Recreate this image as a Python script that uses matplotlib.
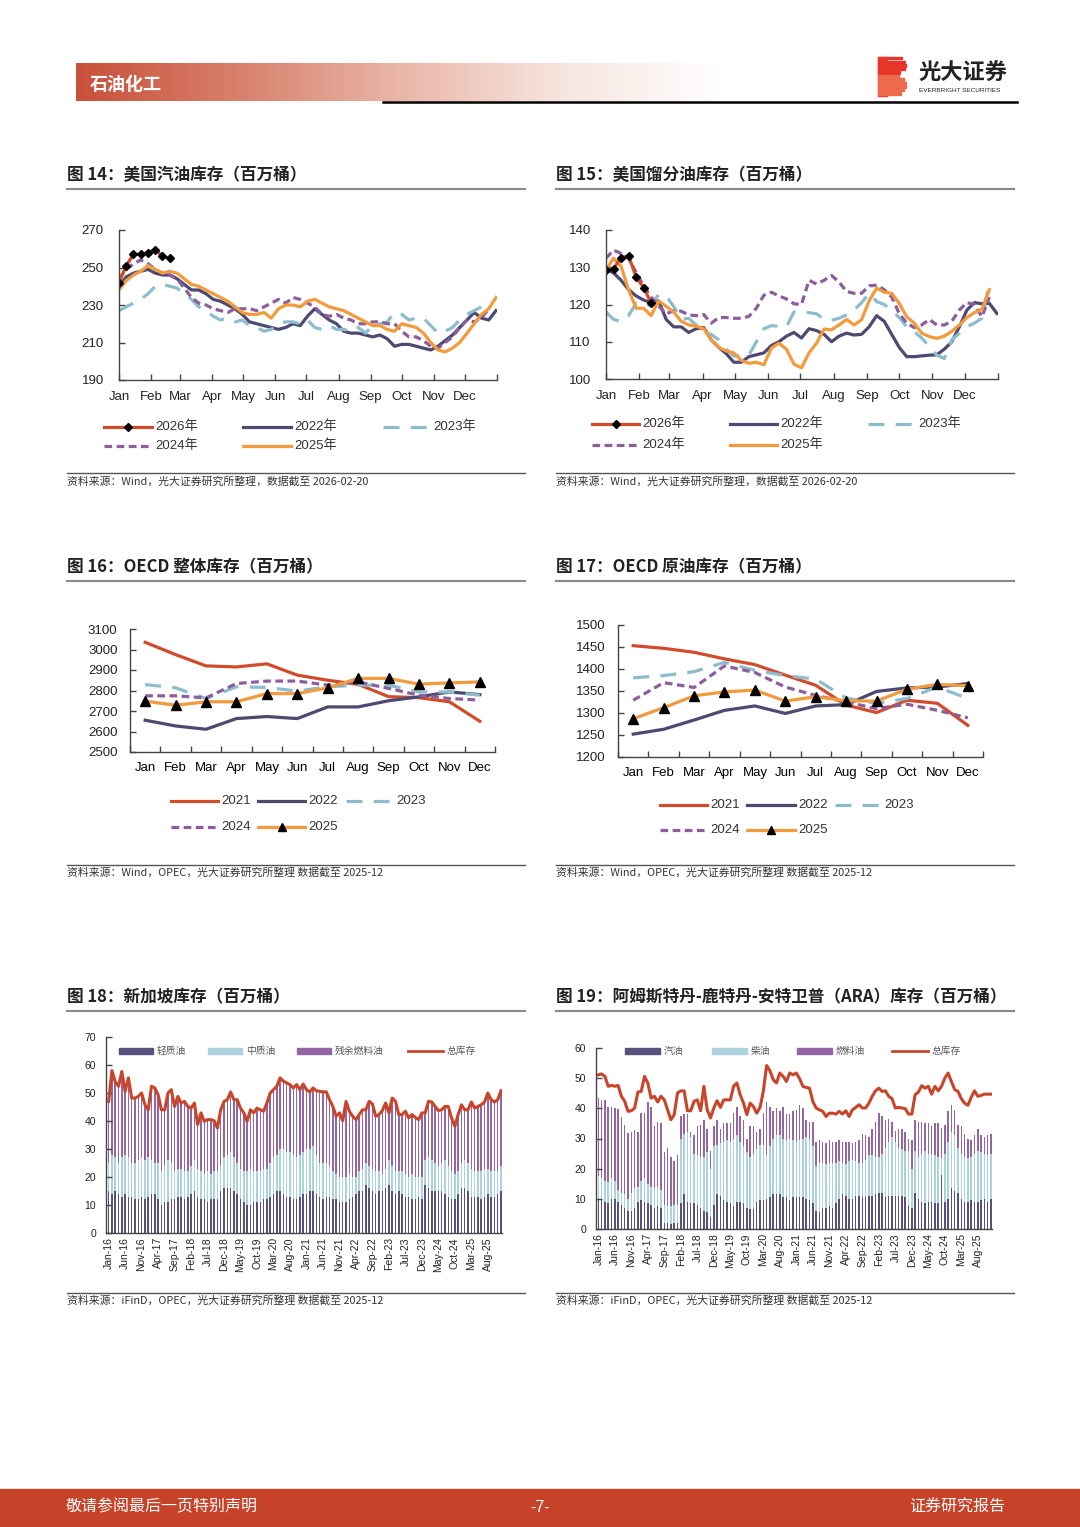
import numpy as np
import matplotlib as mpl
import matplotlib.pyplot as plt
from matplotlib.lines import Line2D
from matplotlib.patches import Rectangle
from matplotlib.colors import LinearSegmentedColormap

plt.rcParams['font.family'] = ['Liberation Sans', 'Noto Sans CJK SC', 'DejaVu Sans']

# ---------------- data ----------------
months = ['Jan', 'Feb', 'Mar', 'Apr', 'May', 'Jun', 'Jul', 'Aug', 'Sep', 'Oct', 'Nov', 'Dec']
month_edges = [0, 31, 59, 90, 120, 151, 181, 212, 243, 273, 304, 334, 365]

# fig 14: US gasoline stocks, weekly
gas_2026 = [242, 251, 257, 257, 258, 259.5, 256, 255]
gas_2022 = [240, 245, 247, 248, 249, 247, 246, 246, 244, 241, 238, 238, 236, 233, 232, 230, 228, 225,
            221, 220, 219, 218, 217, 218, 220, 219, 224, 228, 225, 222, 220, 216, 215, 215, 214, 213,
            214, 212, 208, 209, 209, 208, 207, 206, 208, 211, 214, 218, 222, 226, 223, 222, 227]
gas_2023 = [227, 229, 231, 233, 236, 240, 241, 240, 239, 236, 233, 229, 227, 224, 222, 223, 221, 222,
            219, 218, 216, 217, 220, 221, 221, 220, 222, 218, 217, 219, 217, 217, 216, 218, 215, 219,
            220, 221, 226, 225, 222, 223, 223, 219, 215, 216, 218, 222, 225, 227, 229]
gas_2024 = [244, 249, 252, 254, 252, 249, 247, 246, 244, 239, 234, 231, 230, 228, 227, 226, 228, 228,
            228, 227, 229, 231, 233, 231, 234, 233, 231, 229, 225, 224, 225, 223, 222, 220, 220, 221,
            221, 220, 220, 216, 213, 213, 211, 208, 207, 210, 213, 218, 222, 221, 223, 228]
gas_2025 = [238, 243, 246, 248, 251, 249, 247, 248, 247, 244, 241, 240, 238, 236, 234, 232, 229, 226,
            225, 225, 226, 223, 228, 230, 230, 229, 232, 233, 231, 229, 228, 227, 225, 223, 221, 219,
            219, 217, 216, 220, 219, 218, 215, 210, 206, 205, 207, 210, 215, 220, 225, 228, 234]

# fig 15: US distillate stocks, weekly
dist_2026 = [129.3, 129.6, 132.6, 133.0, 127.5, 124.5, 120.5]
dist_2022 = [129.3, 128.5, 126.5, 124, 122.3, 121.2, 120.5, 121, 116, 114, 114, 112.5, 113.5, 113.8,
             110.5, 108.5, 106.8, 104.5, 104.5, 106, 106.5, 107, 109, 110, 111.5, 112.5, 111, 113.5,
             113, 112, 110, 111.5, 112.3, 111.8, 112, 114, 117, 115.5, 112, 108.5, 106, 106, 106.2,
             106.4, 106.5, 108, 110, 114, 118.5, 120.5, 120.2, 120.3, 117.6]
dist_2023 = [118, 116, 115.4, 117, 120.3, 119.5, 120, 122.6, 122.3, 119.5, 116, 116.3, 114.5, 112.5,
             112, 110.5, 108, 106.2, 106.2, 106.4, 110, 113.5, 114.3, 114.2, 114, 118, 118.1, 117.8,
             117.5, 116, 115.8, 116.3, 117.2, 118.5, 120.5, 123, 120.8, 120, 118.5, 116.5, 114, 112.7,
             111, 108.7, 106.4, 105.5, 110.5, 112.3, 114, 115, 116.3, 126]
dist_2024 = [132.4, 134.6, 133.7, 132.4, 128.6, 125, 122, 119.6, 117.5, 118.3, 118.2, 117.2, 117, 117.3,
             115, 116.5, 116.5, 116.3, 116.3, 116.8, 119, 122.5, 123.3, 122.3, 121.5, 120.2, 120, 126.5,
             125.5, 126.5, 127.8, 126, 123.5, 123, 123, 125, 125.2, 124, 122, 117.6, 115, 113.8, 114.5,
             116, 114.5, 114.5, 115.5, 118.5, 120.5, 120, 116.7, 122]
dist_2025 = [129.3, 132.4, 130.3, 124, 119, 119, 117, 121, 119.5, 118, 115.5, 114.5, 114.2, 113.5,
             110.5, 108.5, 107.5, 107, 105, 104.2, 104.5, 103.8, 108.3, 109.6, 108, 104, 103, 107,
             109.6, 113.4, 113.2, 114.5, 116, 114.5, 115.9, 121, 124.4, 123.3, 123, 120.3, 116.7, 115,
             112.3, 111.4, 110.9, 111.5, 112.8, 114.5, 116.5, 117.8, 118.7, 124]

# fig 16: OECD total stocks, monthly
oecd_tot_2021 = [3035, 2975, 2920, 2915, 2930, 2875, 2850, 2830, 2770, 2765, 2745, 2650]
oecd_tot_2022 = [2655, 2627, 2611, 2663, 2673, 2663, 2720, 2720, 2750, 2769, 2793, 2780]
oecd_tot_2023 = [2829, 2813, 2761, 2818, 2815, 2797, 2818, 2826, 2826, 2793, 2793, 2777]
oecd_tot_2024 = [2774, 2774, 2764, 2834, 2846, 2846, 2826, 2842, 2810, 2777, 2761, 2753]
oecd_tot_2025 = [2748, 2728, 2745, 2745, 2785, 2785, 2813, 2859, 2859, 2831, 2837, 2842]

# fig 17: OECD crude stocks, monthly
oecd_crd_2021 = [1453, 1447, 1438, 1423, 1410, 1386, 1363, 1318, 1301, 1329, 1322, 1272]
oecd_crd_2022 = [1252, 1263, 1284, 1306, 1316, 1299, 1316, 1319, 1349, 1357, 1359, 1367]
oecd_crd_2023 = [1380, 1385, 1394, 1415, 1397, 1385, 1377, 1334, 1322, 1333, 1359, 1333]
oecd_crd_2024 = [1329, 1369, 1358, 1407, 1392, 1359, 1340, 1325, 1310, 1320, 1306, 1289]
oecd_crd_2025 = [1287, 1312, 1339, 1348, 1352, 1327, 1337, 1328, 1327, 1354, 1365, 1362]

# fig 18 / 19 date labels (every 5th month from Jan-16)
stock_labels = ['Jan-16', 'Jun-16', 'Nov-16', 'Apr-17', 'Sep-17', 'Feb-18', 'Jul-18', 'Dec-18',
                'May-19', 'Oct-19', 'Mar-20', 'Aug-20', 'Jan-21', 'Jun-21', 'Nov-21', 'Apr-22',
                'Sep-22', 'Feb-23', 'Jul-23', 'Dec-23', 'May-24', 'Oct-24', 'Mar-25', 'Aug-25']

# fig 18: Singapore stocks, monthly Jan-16 .. Dec-25
sg_total = [47, 58, 54, 52.4, 57.7, 50.6, 55.4, 48.2, 48.2, 48.8, 50, 45.8,
            44, 52.4, 51.8, 49.4, 44, 44, 50, 51.2, 45.2, 48.8, 46.4, 47,
            45.2, 44.6, 46.4, 38.7, 42.9, 39.9, 40.5, 40.5, 40.1, 37.5, 44, 47,
            47.6, 50.4, 47.6, 47.6, 44.6, 42.9, 39.9, 44, 42.9, 44.6, 44, 43.5,
            46.4, 50, 51.2, 52.4, 55.4, 54.2, 53.6, 53, 51.8, 53, 51.2, 53.2,
            51.2, 50.4, 51.8, 50.8, 50.6, 50.4, 50.4, 47.6, 45.2, 41.7, 42.9, 40.1,
            47, 43.5, 41.7, 40.5, 42.3, 44, 44, 47, 46.1, 41.7, 42.3, 43.7,
            46.4, 42.9, 48.2, 47, 42.3, 42.3, 43.5, 41.1, 42.3, 41.3, 40.5, 42.9,
            42.9, 47, 46.8, 45.2, 43.7, 44, 45.2, 45.2, 41.1, 38.1, 42.3, 45.8,
            44, 44, 46.8, 44.6, 45.2, 45.8, 46.8, 50, 47.6, 46.8, 47.6, 50.8]
sg_light = [15, 14, 15, 14, 13, 14, 13, 13, 12, 12, 13, 12,
            13, 14, 14, 12, 10, 11, 11, 12, 12, 13, 13, 12,
            13, 14, 15, 13, 12, 12, 11, 12, 12, 12, 15, 16,
            16, 16, 15, 14, 12, 11, 10, 10, 11, 11, 11, 12,
            12, 13, 14, 15, 15, 14, 13, 13, 12, 12, 13, 14,
            14, 15, 15, 14, 13, 12, 13, 13, 12, 12, 11, 11,
            11, 12, 13, 14, 15, 15, 17, 16, 15, 14, 15, 15,
            16, 17, 15, 14, 15, 14, 13, 13, 12, 12, 13, 12,
            17, 16, 15, 15, 15, 15, 14, 13, 12, 12, 14, 16,
            16, 15, 13, 13, 13, 12, 13, 14, 13, 13, 14, 15]
# top of the middle-distillate layer (light + middle)
sg_mid_top = [25, 28, 27, 25, 27, 28, 27, 25, 25, 26, 27, 26,
              27, 26, 25, 25, 22, 24, 26, 25, 22, 23, 23, 22,
              22, 24, 26, 23, 22, 21, 22, 21, 22, 22, 24, 27,
              28, 29, 27, 25, 23, 22, 22, 23, 22, 22, 22, 23,
              23, 25, 27, 28, 30, 30, 29, 29, 28, 27, 28, 29,
              30, 30, 31, 28, 25, 25, 25, 24, 22, 21, 20, 20,
              20, 21, 20, 20, 22, 23, 25, 24, 23, 22, 22, 21,
              23, 26, 24, 22, 22, 22, 21, 20, 21, 20, 20, 20,
              26, 27, 26, 25, 24, 25, 26, 24, 22, 21, 22, 25,
              26, 25, 23, 22, 22, 22, 23, 23, 22, 22, 22, 24]

# fig 19: ARA stocks, monthly Jan-16 .. Dec-25
ara_total = [51.1, 51.4, 50.6, 47.3, 47.6, 47.3, 47.6, 44, 42.3, 39, 39.2, 40.1,
             45.4, 45.6, 50.6, 48.4, 43.4, 44, 42.1, 44, 42.8, 39.5, 36.2, 37.9,
             45.1, 45.8, 45.8, 39.2, 39.2, 42.3, 42.8, 39.2, 47.3, 39.5, 36.8, 40.1,
             42.5, 40.3, 42.8, 42.8, 42.8, 47.3, 48.4, 44.5, 41.7, 37.9, 41.7, 40.6,
             38.4, 40.3, 45.6, 54.2, 52.5, 49.5, 48.4, 51.7, 50.6, 48.9, 51.7, 51.1,
             51.7, 49.8, 47.3, 46.9, 46.7, 42.3, 40.1, 39.5, 39, 37.3, 38.4, 38.4,
             38.1, 39, 38.1, 39.2, 37.3, 39.5, 40.3, 41.2, 40.1, 40.1, 41.7, 44,
             45.8, 46.7, 45.6, 45.8, 44, 43.2, 40.1, 40.3, 40.1, 39.9, 38.1, 38.1,
             44.5, 45.4, 47.5, 46.7, 47.3, 44.7, 47.3, 45.8, 47.3, 50, 51.7, 48.9,
             46.2, 45.6, 43.2, 41.7, 41, 43.6, 45.8, 44, 44.3, 44.7, 44.7, 44.7]
ara_gasoline = [10, 9.5, 9, 8.5, 10, 10, 9, 8, 7, 6, 6, 7,
                9, 9.5, 9, 8.5, 8, 7, 7.5, 7, 2, 2, 1.5, 2,
                2, 8.5, 11.5, 9, 8.5, 8.5, 8, 7, 6, 5.5, 4, 8,
                11.5, 11, 9.5, 9, 8.5, 7.5, 9, 9, 8.5, 7, 6.5, 6.5,
                9, 9.5, 9.5, 10, 10.5, 11.5, 11.5, 11.5, 10.5, 10.5, 9.5, 10.5,
                10.5, 10.5, 10.5, 10, 9.5, 8.5, 6, 5.5, 7, 7, 7.5, 7,
                8.5, 10, 11.5, 11, 10, 10, 11, 11, 10.5, 10.5, 11, 11,
                11.5, 12, 12, 10.5, 11, 11, 11, 11, 11, 10.5, 7.5, 7,
                12, 10, 9, 8.5, 9, 9, 8.5, 8.5, 18, 9, 10, 13.5,
                12.5, 12, 10, 9, 9, 9.5, 9, 9, 9.5, 10, 9, 10]
# top of the gasoil layer (gasoline + gasoil)
ara_gasoil_top = [17.5, 17, 16, 15.5, 17, 16, 13, 12, 11.5, 10, 12, 13.5,
                  14, 16, 17, 15, 14, 13.5, 14, 13, 8, 7.5, 7.5, 8,
                  8, 30, 31.5, 32, 30.5, 25, 24.5, 24, 24, 25.5, 20, 27.5,
                  28, 28.5, 29, 29.5, 29, 30, 31, 29, 27.5, 25.5, 24, 25,
                  26.5, 28, 28, 24.5, 27.5, 30, 31, 31, 30, 29.5, 30, 29.5,
                  29, 29.5, 30, 30.5, 30, 27.5, 21, 22, 22, 21.5, 22, 22,
                  22, 22.5, 22, 21.5, 22.5, 23, 22.5, 22, 22, 23, 24.5, 24.5,
                  24, 24, 25, 27, 29, 30.5, 29, 27, 26.5, 26, 26, 20,
                  26, 24, 25, 26, 25, 25, 24.5, 24, 23.5, 25, 29, 32,
                  31, 27, 25, 24, 23.5, 24, 25, 26, 25.5, 25, 24.5, 25]
# top of the stacked bars (gasoline + gasoil + fuel oil)
ara_bar_top = [43.4, 42.8, 42.8, 40.3, 40.3, 40, 39.9, 37, 34.5, 31.8, 32.3, 32.7,
               32, 38.5, 38.5, 42, 40.5, 34, 35.5, 35, 25.5, 27, 24, 22.5,
               24.5, 37.5, 38, 38, 32, 31, 34, 34.5, 36, 33, 26, 34,
               36, 33, 35, 35, 35, 38.5, 40.5, 37.5, 36, 30, 34, 34,
               32, 33, 38.5, 42, 40.5, 39, 40, 39, 40.5, 38, 38, 39,
               39.5, 41, 40, 36, 35.5, 35.5, 29, 29.5, 29, 28.5, 29.5, 29,
               29, 29.5, 29, 29, 29, 28.5, 29, 29.5, 31.5, 31, 30.5, 33,
               35.5, 38.5, 37.5, 36, 36.5, 35.5, 32.5, 33, 33, 32, 30, 29.5,
               36, 35.5, 35.5, 35, 35, 34, 35, 35, 33.5, 34.5, 39, 41,
               39.5, 34.5, 34, 31.5, 30, 29.5, 31, 33, 31, 30.5, 31, 31.5]

# ---------------- styles ----------------
RED = '#d24b2b'
NAVY = '#4c4a70'
LBLUE = '#8dbccd'
PURPLE = '#8d5d9d'
ORANGE = '#f39a3c'
BAR_NAVY = '#56527c'
BAR_BLUE = '#acd2de'
BAR_PURPLE = '#9566a6'
LINE_RED = '#c9452a'

st_red = dict(color=RED, lw=2.3)
st_navy = dict(color=NAVY, lw=2.3)
st_blue = dict(color=LBLUE, lw=2.3, linestyle=(0, (5, 3.5)))
st_purple = dict(color=PURPLE, lw=2.3, linestyle=(0, (2.4, 1.4)))
st_orange = dict(color=ORANGE, lw=2.3)

W, H = 1080, 1527
fig = plt.figure(figsize=(W / 100, H / 100), dpi=100)


def fx(x):
    return x / W


def fy(y):
    return 1 - y / H


def add_ax(x0, y0, x1, y1):
    return fig.add_axes([fx(x0), fy(y1), (x1 - x0) / W, (y1 - y0) / H])


def hline(x0, x1, y, color, lw, **kw):
    fig.add_artist(Line2D([fx(x0), fx(x1)], [fy(y), fy(y)], color=color, lw=lw,
                          transform=fig.transFigure, **kw))


def ftext(x, y, s, **kw):
    fig.text(fx(x), fy(y), s, **kw)


def leg_line(x0, x1, y, label, marker=None, ms=6, **style):
    hline(x0, x1, y, **style)
    if marker:
        fig.add_artist(Line2D([fx((x0 + x1) / 2)], [fy(y)], transform=fig.transFigure,
                              marker=marker, ms=ms, color='black', linestyle='none'))
    ftext(x1 + 3, y, label, va='center', ha='left', fontsize=9.5, color='#333333')


def leg_bar(x0, x1, y, label, color):
    fig.add_artist(Rectangle((fx(x0), fy(y + 3)), (x1 - x0) / W, 6 / H, color=color,
                             transform=fig.transFigure))
    ftext(x1 + 4, y, label, va='center', ha='left', fontsize=7, color='#555555',
          family='Noto Sans CJK SC')


def frame(x0, x1, ytitle, yline, ysrc, title, src):
    ftext(x0, ytitle, title, va='center', ha='left', fontsize=12, fontweight='bold',
          family='Noto Sans CJK SC', color='#222222')
    hline(x0, x1, ytitle + 14, '#8a8a8a', 1.5)
    hline(x0, x1, yline, '#555555', 1.0)
    ftext(x0, ysrc, src, va='center', ha='left', fontsize=7.8, family='Noto Sans CJK SC',
          color='#333333')


def style_axes(ax, labelsize=9.5, xpad=8, ypad=11):
    for s in ['top', 'right']:
        ax.spines[s].set_visible(False)
    for s in ['left', 'bottom']:
        ax.spines[s].set_color('#444444')
        ax.spines[s].set_linewidth(1.0)
    ax.tick_params(direction='in', length=4, width=1, colors='#444444', labelsize=labelsize,
                   labelcolor='#222222')
    ax.tick_params(axis='x', pad=xpad)
    ax.tick_params(axis='y', pad=ypad)
    ax.set_facecolor('none')


# ---------------- header / footer ----------------
hax = add_ax(76, 63, 720, 101)
grad = np.linspace(0, 1, 400).reshape(1, -1)
cmap = LinearSegmentedColormap.from_list('hdr', ['#c8503a', '#d8806c', '#e9b6a8', '#f7e4de', '#ffffff'])
hax.imshow(grad, aspect='auto', cmap=cmap, extent=[0, 1, 0, 1])
hax.axis('off')
ftext(90, 84, '石油化工', va='center', ha='left', fontsize=13, fontweight='bold', color='white',
      family='Noto Sans CJK SC')
hline(383, 1017, 102, 'black', 1.8)

# logo block: "B" built from a solid left bar and striped bumps
fig.add_artist(Rectangle((fx(878), fy(96)), 9 / W, 39 / H, color='#e8352a', transform=fig.transFigure))
stripe_w = [24, 27, 28, 27, 22, 21, 26, 28, 28, 26, 23]
for i, wd in enumerate(stripe_w):
    yy = 57 + i * 3.55
    c = '#e8352a' if i < 5 else '#ef6a4c'
    fig.add_artist(Rectangle((fx(878), fy(yy + 2.4)), wd / W, 2.4 / H, color=c,
                             transform=fig.transFigure))
ftext(918, 73, '光大证券', va='center', ha='left', fontsize=16, fontweight='bold', color='#222222',
      family='Noto Sans CJK SC')
ftext(919, 90, 'EVERBRIGHT SECURITIES', va='center', ha='left', fontsize=4.6, color='#222222')

fig.add_artist(Rectangle((0, 0), 1, (1527 - 1489) / H, color='#c6432a', transform=fig.transFigure))
ftext(66, 1507, '敬请参阅最后一页特别声明', va='center', ha='left', fontsize=11.5, color='white',
      family='Noto Sans CJK SC')
ftext(540, 1507, '-7-', va='center', ha='center', fontsize=11.5, color='white')
ftext(1005, 1507, '证券研究报告', va='center', ha='right', fontsize=11.5, color='white',
      family='Noto Sans CJK SC')

# ---------------- fig 14 ----------------
src_wind = '资料来源：Wind，光大证券研究所整理，数据截至 2026-02-20'
frame(67, 525, 175, 473, 481, '图 14：美国汽油库存（百万桶）', src_wind)
ax = add_ax(119, 230, 497, 380)
for vals, st in [(gas_2022, st_navy), (gas_2023, st_blue), (gas_2024, st_purple), (gas_2025, st_orange)]:
    ax.plot(7 * np.arange(len(vals)), vals, **st)
ax.plot(7 * np.arange(len(gas_2026)), gas_2026, marker='D', ms=4, mfc='black', mec='black', **st_red)
ax.set_xlim(0, 365)
ax.set_ylim(190, 270)
ax.set_yticks([190, 210, 230, 250, 270])
ax.set_xticks(month_edges)
ax.set_xticklabels(months + [''])
style_axes(ax, xpad=8, ypad=11)

leg_line(104, 152, 427, '2026年', marker='D', ms=4, **st_red)
leg_line(243, 291, 427, '2022年', **st_navy)
leg_line(383, 430, 427, '2023年', **st_blue)
leg_line(104, 152, 446, '2024年', **st_purple)
leg_line(243, 291, 446, '2025年', **st_orange)

# ---------------- fig 15 ----------------
frame(556, 1014, 175, 473, 481, '图 15：美国馏分油库存（百万桶）', src_wind)
ax = add_ax(606, 230, 998, 379)
for vals, st in [(dist_2022, st_navy), (dist_2023, st_blue), (dist_2024, st_purple), (dist_2025, st_orange)]:
    ax.plot(7 * np.arange(len(vals)), vals, **st)
ax.plot(7 * np.arange(len(dist_2026)), dist_2026, marker='D', ms=4, mfc='black', mec='black', **st_red)
ax.set_xlim(0, 365)
ax.set_ylim(100, 140)
ax.set_yticks([100, 110, 120, 130, 140])
ax.set_xticks(month_edges)
ax.set_xticklabels(months + [''])
style_axes(ax, xpad=8, ypad=11)

leg_line(592, 639, 424, '2026年', marker='D', ms=4, **st_red)
leg_line(730, 777, 424, '2022年', **st_navy)
leg_line(868, 915, 424, '2023年', **st_blue)
leg_line(592, 639, 445, '2024年', **st_purple)
leg_line(730, 777, 445, '2025年', **st_orange)

# ---------------- fig 16 / 17 ----------------
src_opec = '资料来源：Wind，OPEC，光大证券研究所整理 数据截至 2025-12'


def monthly_chart(box, data, ylim, yticks):
    ax = add_ax(*box)
    x = np.arange(12)
    styles = [st_red, st_navy, st_blue, st_purple]
    for vals, st in zip(data[:4], styles):
        ax.plot(x, vals, **st)
    ax.plot(x, data[4], marker='^', ms=7, mfc='black', mec='black', **st_orange)
    ax.set_xlim(-0.5, 11.5)
    ax.set_ylim(*ylim)
    ax.set_yticks(yticks)
    ax.set_xticks(np.arange(-0.5, 12, 1))
    ax.set_xticklabels([])
    ax.set_xticks(x, minor=True)
    ax.set_xticklabels(months, minor=True)
    style_axes(ax, xpad=7, ypad=9)
    ax.tick_params(axis='x', which='minor', length=0, pad=7, labelsize=9.5)
    return ax


frame(67, 525, 567, 865, 872, '图 16：OECD 整体库存（百万桶）', src_opec)
monthly_chart((130, 629, 495, 752),
              [oecd_tot_2021, oecd_tot_2022, oecd_tot_2023, oecd_tot_2024, oecd_tot_2025],
              (2500, 3100), np.arange(2500, 3101, 100))
leg_line(171, 218, 801, '2021', **st_red)
leg_line(258, 305, 801, '2022', **st_navy)
leg_line(346, 393, 801, '2023', **st_blue)
leg_line(171, 218, 827, '2024', **st_purple)
leg_line(258, 305, 827, '2025', marker='^', ms=6, **st_orange)

frame(556, 1014, 567, 865, 872, '图 17：OECD 原油库存（百万桶）', src_opec)
monthly_chart((618, 625, 983, 757),
              [oecd_crd_2021, oecd_crd_2022, oecd_crd_2023, oecd_crd_2024, oecd_crd_2025],
              (1200, 1500), np.arange(1200, 1501, 50))
leg_line(660, 707, 805, '2021', **st_red)
leg_line(747, 795, 805, '2022', **st_navy)
leg_line(835, 881, 805, '2023', **st_blue)
leg_line(660, 707, 830, '2024', **st_purple)
leg_line(747, 795, 830, '2025', marker='^', ms=6, **st_orange)

# ---------------- fig 18 / 19 ----------------
src_ifind = '资料来源：iFinD，OPEC，光大证券研究所整理 数据截至 2025-12'


def stock_chart(box, bottom, mid_top, bar_top, total, ylim, yticks, xlim):
    ax = add_ax(*box)
    m = np.arange(len(total))
    bottom = np.array(bottom)
    mid = np.array(mid_top) - bottom
    top = np.array(bar_top) - np.array(mid_top)
    ax.bar(m, bottom, width=0.45, color=BAR_NAVY, linewidth=0)
    ax.bar(m, mid, bottom=bottom, width=0.45, color=BAR_BLUE, linewidth=0)
    ax.bar(m, top, bottom=np.array(mid_top), width=0.45, color=BAR_PURPLE, linewidth=0)
    ax.plot(m, total, color=LINE_RED, lw=2.2)
    ax.set_xlim(*xlim)
    ax.set_ylim(*ylim)
    ax.set_yticks(yticks)
    ax.set_xticks(np.arange(0, len(total), 5))
    ax.set_xticklabels(stock_labels, rotation=90)
    style_axes(ax, labelsize=7.5, xpad=3, ypad=7)
    ax.tick_params(axis='x', length=0)
    return ax


frame(67, 525, 997, 1293, 1300, '图 18：新加坡库存（百万桶）', src_ifind)
stock_chart((106, 1037, 502, 1233), sg_light, sg_mid_top, sg_total, sg_total,
            (0, 70), np.arange(0, 71, 10), (-0.8, 119.3))
leg_bar(119, 153, 1051, '轻质油', BAR_NAVY)
leg_bar(208, 242, 1051, '中质油', BAR_BLUE)
leg_bar(297, 331, 1051, '残余燃料油', BAR_PURPLE)
hline(408, 443, 1051, LINE_RED, 2.0)
ftext(447, 1051, '总库存', va='center', ha='left', fontsize=7, color='#555555', family='Noto Sans CJK SC')

frame(556, 1014, 997, 1293, 1300, '图 19：阿姆斯特丹-鹿特丹-安特卫普（ARA）库存（百万桶）', src_ifind)
stock_chart((596, 1048, 992, 1229), ara_gasoline, ara_gasoil_top, ara_bar_top, ara_total,
            (0, 60), np.arange(0, 61, 10), (-0.7, 119.3))
leg_bar(625, 660, 1051, '汽油', BAR_NAVY)
leg_bar(712, 747, 1051, '柴油', BAR_BLUE)
leg_bar(797, 832, 1051, '燃料油', BAR_PURPLE)
hline(892, 928, 1051, LINE_RED, 2.0)
ftext(932, 1051, '总库存', va='center', ha='left', fontsize=7, color='#555555', family='Noto Sans CJK SC')

fig.savefig('out.png', dpi=100)
